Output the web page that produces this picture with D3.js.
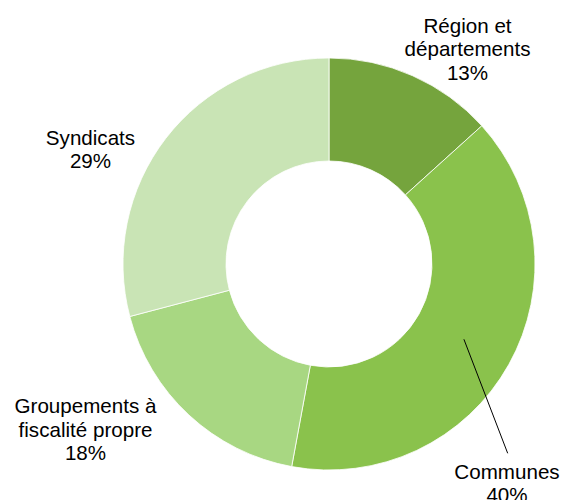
<!DOCTYPE html>
<html>
<head>
<meta charset="utf-8">
<script src="https://cdn.jsdelivr.net/npm/d3@7"></script>
<style>
  html, body { margin: 0; padding: 0; background: #ffffff; }
  svg { display: block; }
  text { font-family: "Liberation Sans", Arial, sans-serif; fill: #000000; }
</style>
</head>
<body>
<svg id="chart" width="564" height="500"></svg>
<script>
// Data
const categories = ["Région et départements", "Communes", "Groupements à fiscalité propre", "Syndicats"];
const values = [13.3, 39.6, 18.0, 29.1];
const labelLines = [["Région et", "départements"], ["Communes"], ["Groupements à", "fiscalité propre"], ["Syndicats"]];
const colors = ["#75A43D", "#8AC24C", "#A8D782", "#C9E4B5"];

// Layout
const cx = 329, cy = 264, outerR = 206, innerR = 103;
const fontSize = 20.6, lineH = 23.4;
// label anchor (center x, first baseline y)
const labelPos = [[467.5, 33], [507, 479], [85.5, 413.3], [90.5, 145]];

const svg = d3.select("#chart");
const g = svg.append("g").attr("transform", `translate(${cx},${cy})`);

const pie = d3.pie().sort(null).value(d => d);
const arcs = pie(values);
const arc = d3.arc().innerRadius(innerR).outerRadius(outerR);

g.selectAll("path.slice")
  .data(arcs)
  .join("path")
  .attr("class", "slice")
  .attr("d", arc)
  .attr("fill", (d, i) => colors[i])
  .attr("stroke", "#ffffff")
  .attr("stroke-width", 0.8);

// Leader line for Communes
const c = arc.centroid(arcs[1]);
svg.append("line")
  .attr("x1", cx + c[0]).attr("y1", cy + c[1])
  .attr("x2", 507.7).attr("y2", 453.3)
  .attr("stroke", "#000").attr("stroke-width", 1);

// Labels
arcs.forEach((d, i) => {
  const lines = labelLines[i].concat([Math.round(values[i]) + "%"]);
  const t = svg.append("text")
    .attr("text-anchor", "middle")
    .attr("font-size", fontSize);
  lines.forEach((ln, j) => {
    t.append("tspan")
      .attr("x", labelPos[i][0])
      .attr("y", labelPos[i][1] + j * lineH)
      .text(ln);
  });
});
</script>
</body>
</html>
